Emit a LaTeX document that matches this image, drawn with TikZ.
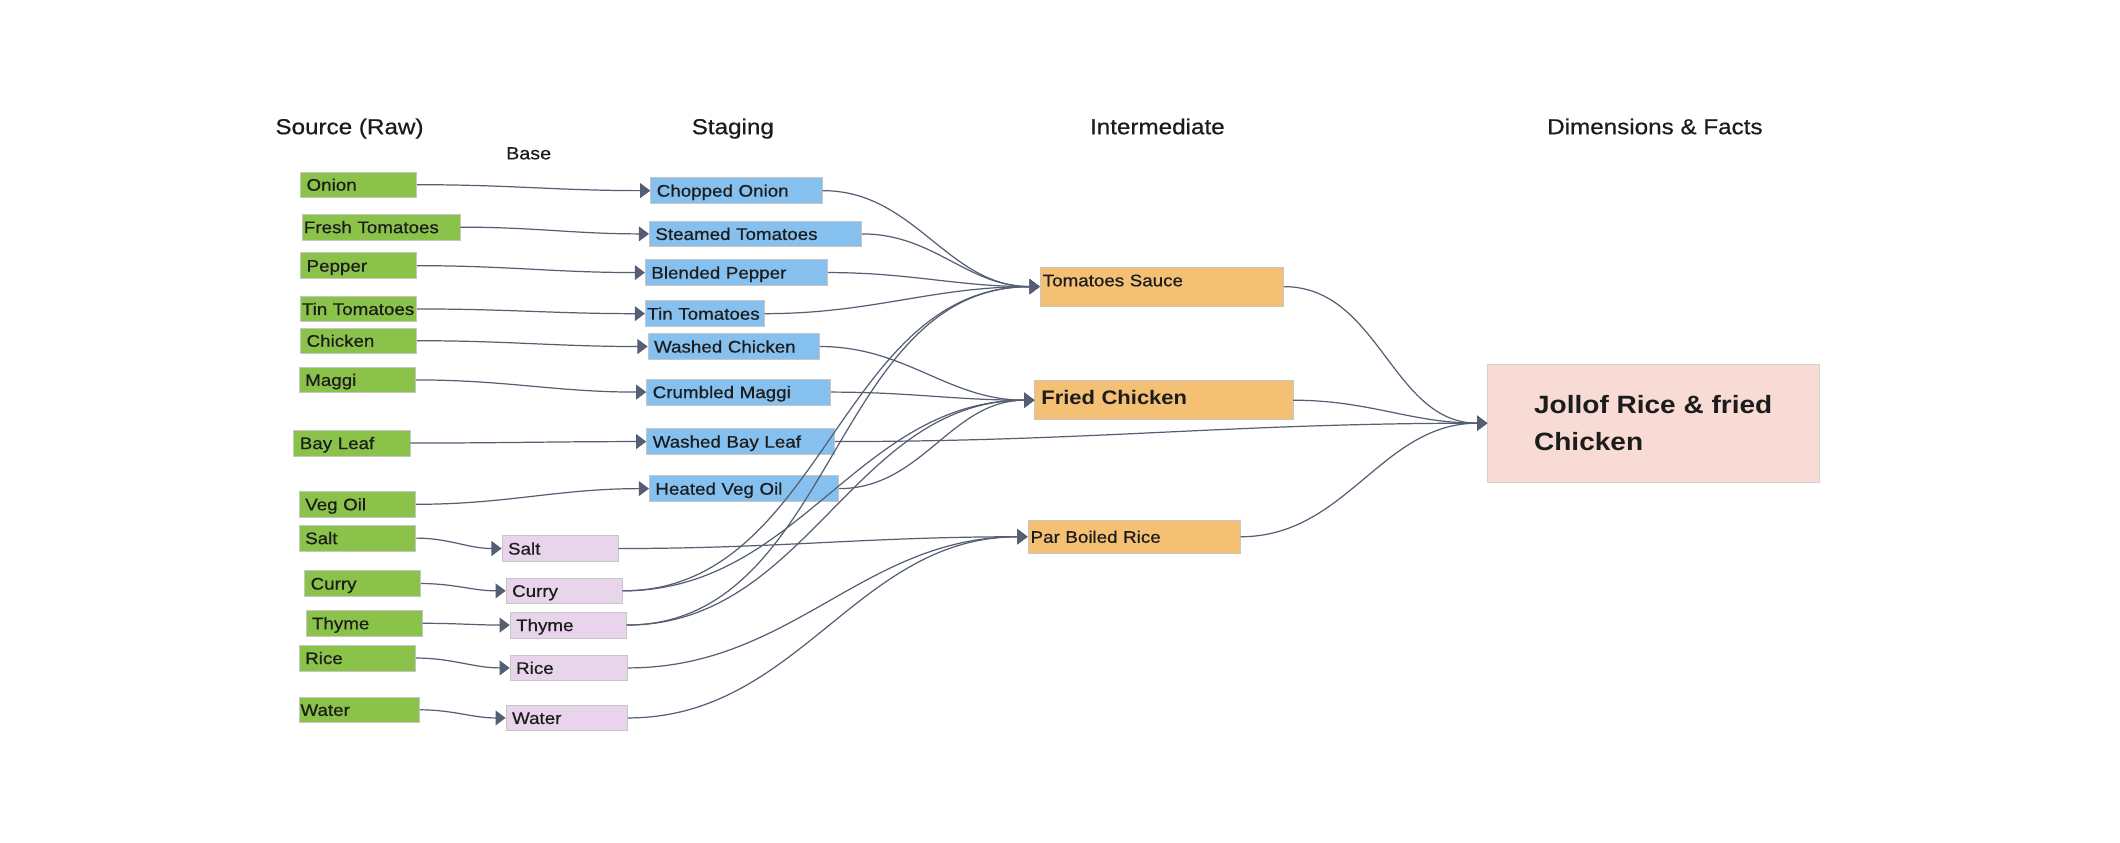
\documentclass[tikz,border=0pt]{standalone}
\usepackage{fontspec}
\setmainfont{Liberation Sans}[FakeStretch=1.12, UprightFeatures={FakeBold=0.6}]
\usetikzlibrary{arrows.meta}

\definecolor{rawgreen}{HTML}{8BC34A}
\definecolor{stageblue}{HTML}{85C0EF}
\definecolor{basepink}{HTML}{E8D5EC}
\definecolor{midorange}{HTML}{F4C074}
\definecolor{factpink}{HTML}{F8DBD4}
\definecolor{linkgray}{HTML}{565E74}
\definecolor{inktext}{HTML}{1C1C1C}

\tikzset{
	box/.style={rectangle, anchor=west, align=left, draw=gray!45, line width=0.5pt, text=inktext, inner xsep=4.5pt, inner ysep=0pt, minimum height=19pt, text height=8.9pt, text depth=0pt, font=\fontsize{12.4}{14}\selectfont},
	raw/.style={box, fill=rawgreen, text width=#1},
	raw/.default=77pt,
	stage/.style={box, fill=stageblue, text width=#1},
	base/.style={box, fill=basepink, text width=#1},
	base/.default=77pt,
	mid/.style={box, fill=midorange, text width=#1, inner xsep=2pt, minimum height=29pt},
	fact/.style={rectangle, anchor=west, align=left, fill=factpink, draw=gray!35, line width=0.5pt, text=inktext, minimum width=245pt, minimum height=87.5pt, font=\bfseries\fontsize{18.5}{27}\selectfont},
	head/.style={inner sep=0pt, text=inktext, text height=11.5pt, text depth=0pt, font=\fontsize{16}{18}\selectfont},
	link/.style={draw=linkgray, line width=0.9pt, -{Triangle[length=7.5pt,width=11pt]}, out=0, in=180}
}

\begin{document}
\begin{tikzpicture}[x=1pt,y=-1pt]
	\fill[white] (0,0) rectangle (1568,622.8);
	
	% column titles
	\node[head] (hraw) at (258.5,93.5) {Source (Raw)};
	
	\node[head, text height=9.3pt, font=\fontsize{13}{15}\selectfont] (hbase) at (391,113.2) {Base};
	
	\node[head] (hstage) at (542,93.5) {Staging};
	
	\node[head] (hmid) at (856,93.5) {Intermediate};
	
	\node[head] (hfact) at (1224,93.5) {Dimensions \& Facts};
	
	% raw sources
	\node[raw] (onion) at (222,136.6) {Onion};
	\node[raw={114pt}, inner xsep=1.5pt] (freshtom) at (223,168) {Fresh Tomatoes};
	\node[raw] (pepper) at (222,196.5) {Pepper};
	\node[raw={84pt}, inner xsep=1pt] (tinraw) at (222,228.5) {Tin~Tomatoes};
	\node[raw] (chicken) at (222,252) {Chicken};
	\node[raw] (maggi) at (221,281) {Maggi};
	\node[raw] (bayleaf) at (217,327.7) {Bay Leaf};
	\node[raw] (vegoil) at (221,373) {Veg Oil};
	\node[raw] (salt) at (221,398) {Salt};
	\node[raw] (curry) at (225,431.6) {Curry};
	\node[raw] (thyme) at (226,461) {Thyme};
	\node[raw] (rice) at (221,486.7) {Rice};
	\node[raw={87pt}, inner xsep=1pt] (water) at (221,525) {Water};
	
	% staging
	\node[stage={118pt}] (chopped) at (481,141) {Chopped Onion};
	\node[stage={148pt}] (steamed) at (480,173) {Steamed Tomatoes};
	\node[stage={126pt}] (blended) at (477,201.6) {Blended Pepper};
	\node[stage={85pt}, inner xsep=1.5pt] (tinstage) at (477,232) {Tin~Tomatoes};
	\node[stage={118pt}] (washchicken) at (479,256.3) {Washed Chicken};
	\node[stage={127pt}] (crumbled) at (478,290) {Crumbled Maggi};
	\node[stage={130pt}] (washbay) at (478,326.6) {Washed Bay Leaf};
	\node[stage={131pt}] (hotoil) at (480,361.4) {Heated Veg Oil};
	
	% base
	\node[base] (saltbase) at (371,405.7) {Salt};
	\node[base] (currybase) at (374,437) {Curry};
	\node[base] (thymebase) at (377,462.3) {Thyme};
	\node[base={78pt}] (ricebase) at (377,494) {Rice};
	\node[base={81pt}] (waterbase) at (374,531) {Water};
	
	% intermediate
	\node[mid={176pt}, text depth=9.4pt] (sauce) at (769,212) {Tomatoes Sauce};
	\node[mid={181pt}, inner xsep=5pt, text height=11pt, text depth=5pt, font=\bfseries\fontsize{14.5}{16}\selectfont] (fried) at (765,296) {Fried Chicken};
	\node[mid={153pt}, minimum height=24pt] (parboiled) at (760,397) {Par Boiled Rice};
	
	% dimensions & facts
	\node[fact] (jollof) at (1100,313) {Jollof Rice \& fried\\Chicken};
	
	% raw -> staging / base
	\draw[link] (onion.east) to (chopped.west);
	\draw[link] (freshtom.east) to (steamed.west);
	\draw[link] (pepper.east) to (blended.west);
	\draw[link] (tinraw.east) to (tinstage.west);
	\draw[link] (chicken.east) to (washchicken.west);
	\draw[link] (maggi.east) to (crumbled.west);
	\draw[link] (bayleaf.east) to (washbay.west);
	\draw[link] (vegoil.east) to (hotoil.west);
	\draw[link] (salt.east) to (saltbase.west);
	\draw[link] (curry.east) to (currybase.west);
	\draw[link] (thyme.east) to (thymebase.west);
	\draw[link] (rice.east) to (ricebase.west);
	\draw[link] (water.east) to (waterbase.west);
	
	% staging / base -> intermediate
	\draw[link] (chopped.east) to (sauce.west);
	\draw[link] (steamed.east) to (sauce.west);
	\draw[link] (blended.east) to (sauce.west);
	\draw[link] (tinstage.east) to (sauce.west);
	\draw[link] (currybase.east) to (sauce.west);
	\draw[link] (thymebase.east) to (sauce.west);
	
	\draw[link] (washchicken.east) to (fried.west);
	\draw[link] (crumbled.east) to (fried.west);
	\draw[link] (hotoil.east) to (fried.west);
	\draw[link] (currybase.east) to (fried.west);
	\draw[link] (thymebase.east) to (fried.west);
	
	\draw[link] (saltbase.east) to (parboiled.west);
	\draw[link] (ricebase.east) to (parboiled.west);
	\draw[link] (waterbase.east) to (parboiled.west);
	
	% intermediate -> facts
	\draw[link] (sauce.east) to (jollof.west);
	\draw[link] (fried.east) to (jollof.west);
	\draw[link] (washbay.east) to (jollof.west);
	\draw[link] (parboiled.east) to (jollof.west);
\end{tikzpicture}
\end{document}
